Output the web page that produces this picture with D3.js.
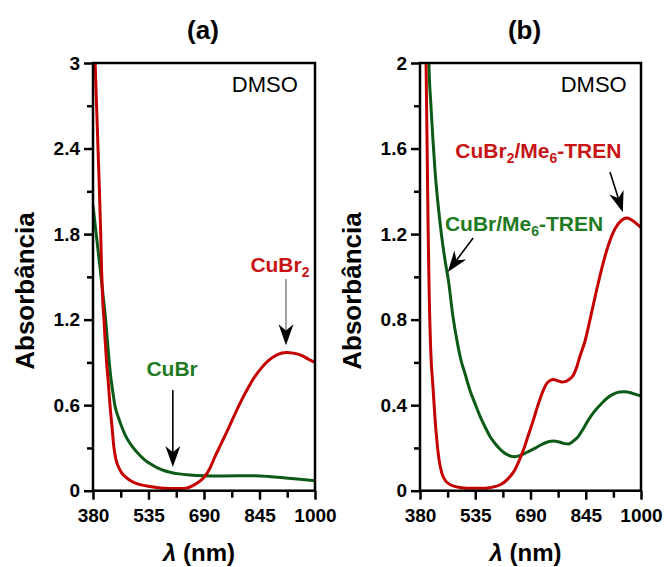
<!DOCTYPE html>
<html>
<head>
<meta charset="utf-8">
<script src="https://cdn.jsdelivr.net/npm/d3@7"></script>
<style>
  body { margin: 0; background: #fff; }
  svg { font-family: 'Liberation Sans', Arial, sans-serif; }
</style>
</head>
<body>
<svg id="chart" width="667" height="567"></svg>
<script>
// ---- data (wavelength nm, absorbance) ----
const nmTicks = [380, 535, 690, 845, 1000];
const nmMinor = [457.5, 612.5, 767.5, 922.5];

const absTicksA = [0, 0.6, 1.2, 1.8, 2.4, 3];
const absMinorA = [0.3, 0.9, 1.5, 2.1, 2.7];
const absTicksB = [0, 0.4, 0.8, 1.2, 1.6, 2];
const absMinorB = [0.2, 0.6, 1.0, 1.4, 1.8];

// (a) CuBr2 in DMSO
const cubr2Dmso = [
  [383, 3.3], [386, 3.0], [390, 2.7], [394, 2.4], [398, 2.1], [401.5, 1.8],
  [404, 1.55], [407, 1.34], [410.7, 1.2], [414, 1.05], [418, 0.9], [423, 0.75],
  [427.5, 0.6], [433, 0.45], [438.6, 0.3], [444, 0.22], [450.7, 0.17], [460, 0.125],
  [469, 0.1], [485, 0.07], [502, 0.05], [530, 0.033], [558, 0.022], [580, 0.017],
  [603, 0.015], [625, 0.015], [643, 0.02], [656, 0.032], [669, 0.05], [680, 0.07],
  [692, 0.1], [706, 0.155], [720, 0.235], [738, 0.33], [757, 0.43], [775, 0.53],
  [794, 0.63], [813, 0.72], [832, 0.8], [850, 0.86], [869, 0.91], [895, 0.955],
  [920, 0.97], [940, 0.965], [962, 0.95], [980, 0.925], [1000, 0.9]
];

// (a) CuBr in DMSO
const cubrDmso = [
  [380, 2.0], [389, 1.8], [398, 1.6], [406, 1.42], [412, 1.28], [416, 1.18],
  [420, 1.06], [424.7, 0.92], [430, 0.79], [435, 0.7], [441, 0.6], [450, 0.52],
  [460, 0.45], [470, 0.39], [480, 0.345], [492.6, 0.3], [510, 0.25], [525, 0.215],
  [539, 0.19], [560, 0.16], [580, 0.14], [595, 0.13], [620, 0.118], [651, 0.11],
  [690, 0.105], [738, 0.103], [790, 0.104], [832, 0.104], [870, 0.1], [906, 0.093],
  [950, 0.082], [1000, 0.07]
];

// (b) CuBr2/Me6-TREN
const cubr2Tren = [
  [395, 2.3], [397, 2.0], [400, 1.6], [403, 1.2], [406, 0.9], [410, 0.66],
  [417, 0.47], [422, 0.34], [427, 0.24], [433, 0.15], [441, 0.083], [450, 0.05],
  [460, 0.033], [478, 0.02], [497, 0.014], [525, 0.011], [553, 0.011], [575, 0.014],
  [590, 0.019], [605, 0.028], [618, 0.042], [632, 0.065], [646, 0.097], [658, 0.14],
  [670, 0.19], [684, 0.26], [698, 0.33], [708, 0.385], [717, 0.43], [726, 0.47],
  [735, 0.5], [745, 0.515], [754, 0.52], [765, 0.515], [778, 0.508], [787, 0.51],
  [798, 0.52], [810, 0.54], [820, 0.58], [829, 0.63], [843, 0.7], [857, 0.8],
  [873, 0.92], [890, 1.04], [905, 1.13], [920, 1.2], [935, 1.245], [950, 1.27],
  [960, 1.275], [975, 1.265], [990, 1.245], [1000, 1.23]
];

// (b) CuBr/Me6-TREN
const cubrTren = [
  [403, 2.2], [405, 2.0], [410, 1.82], [416, 1.65], [422, 1.5], [430, 1.35],
  [440, 1.2], [450, 1.08], [460, 0.98], [472, 0.82], [485, 0.69], [495, 0.61],
  [506, 0.549], [520, 0.47], [534, 0.409], [548, 0.35], [562, 0.3], [576, 0.255],
  [590, 0.222], [604, 0.195], [618, 0.175], [632, 0.163], [646, 0.159], [660, 0.164],
  [674, 0.175], [688, 0.186], [702, 0.198], [720, 0.215], [740, 0.229], [755, 0.232],
  [768, 0.229], [782, 0.222], [796, 0.218], [810, 0.232], [824, 0.253], [838, 0.29],
  [852, 0.33], [870, 0.372], [890, 0.409], [908, 0.437], [927, 0.455], [940, 0.462],
  [955, 0.463], [975, 0.456], [992, 0.447], [1000, 0.443]
];

const RED = '#c40000';
const GREEN = '#0b5a16';
const RED_TEXT = '#c81414';
const GREEN_TEXT = '#1f7a24';

const svg = d3.select('#chart');
const TOP = 63;
const BOTTOM = 490.7;

// text with subscripts; parts are [text, isSub]
function addLabel(g, parts, x, y, color, size) {
  const t = g.append('text')
    .attr('x', x).attr('y', y)
    .attr('text-anchor', 'middle')
    .attr('fill', color)
    .attr('font-weight', 'bold')
    .attr('font-size', size);
  let shifted = false;
  parts.forEach(p => {
    const span = t.append('tspan').text(p[0]);
    if (p[1]) {
      span.attr('font-size', size * 0.66).attr('dy', 5);
      shifted = true;
    } else if (shifted) {
      span.attr('dy', -5);
      shifted = false;
    }
  });
}

// thin shaft + concave filled head
function drawArrow(g, x1, y1, x2, y2, shaftColor) {
  const ang = Math.atan2(y2 - y1, x2 - x1);
  const len = 21, half = 7.5;
  const bx = x2 - len * Math.cos(ang), by = y2 - len * Math.sin(ang);
  g.append('line')
    .attr('x1', x1).attr('y1', y1).attr('x2', bx + 6 * Math.cos(ang)).attr('y2', by + 6 * Math.sin(ang))
    .attr('stroke', shaftColor).attr('stroke-width', 1.6);
  const px = -Math.sin(ang), py = Math.cos(ang);
  const notch = len * 0.7;
  const pts = [
    [x2, y2],
    [bx + half * px, by + half * py],
    [x2 - notch * Math.cos(ang), y2 - notch * Math.sin(ang)],
    [bx - half * px, by - half * py]
  ];
  g.append('path').attr('d', 'M' + pts.join('L') + 'Z').attr('fill', '#000');
}

function drawPanel(cfg) {
  const x = d3.scaleLinear().domain([380, 1000]).range([cfg.left, cfg.right]);
  const y = d3.scaleLinear().domain([0, cfg.yMax]).range([BOTTOM, TOP]);
  const g = svg.append('g');

  const clipId = 'clip-' + cfg.id;
  g.append('clipPath').attr('id', clipId)
    .append('rect')
    .attr('x', cfg.left).attr('y', TOP - 1)
    .attr('width', cfg.right - cfg.left).attr('height', BOTTOM - TOP + 1);

  // spectra
  const line = d3.line()
    .x(d => x(d[0]))
    .y(d => y(d[1]))
    .curve(d3.curveMonotoneX);
  cfg.series.forEach(s => {
    g.append('path')
      .datum(s.data)
      .attr('clip-path', `url(#${clipId})`)
      .attr('d', line)
      .attr('fill', 'none')
      .attr('stroke', s.color)
      .attr('stroke-width', 3)
      .attr('stroke-linejoin', 'round');
  });

  // box
  g.append('rect')
    .attr('x', cfg.left).attr('y', TOP)
    .attr('width', cfg.right - cfg.left).attr('height', BOTTOM - TOP)
    .attr('fill', 'none').attr('stroke', '#000').attr('stroke-width', 2.5);

  // axes, major + minor ticks
  const styleAxis = sel => {
    sel.select('.domain').remove();
    sel.selectAll('line').attr('stroke', '#000').attr('stroke-width', 2.5);
    sel.selectAll('text')
      .attr('font-family', "'Liberation Sans', Arial, sans-serif")
      .attr('font-size', 19)
      .attr('font-weight', 'bold')
      .attr('fill', '#000');
  };
  g.append('g').attr('transform', `translate(${cfg.left},0)`)
    .call(d3.axisLeft(y).tickValues(cfg.yTicks).tickSize(9).tickPadding(4).tickFormat(d => String(d)))
    .call(styleAxis);
  g.append('g').attr('transform', `translate(${cfg.left},0)`)
    .call(d3.axisLeft(y).tickValues(cfg.yMinor).tickSize(6).tickFormat(''))
    .call(styleAxis);
  g.append('g').attr('transform', `translate(0,${BOTTOM})`)
    .call(d3.axisBottom(x).tickValues(nmTicks).tickSize(9).tickPadding(9).tickFormat(d => String(d)))
    .call(styleAxis);
  g.append('g').attr('transform', `translate(0,${BOTTOM})`)
    .call(d3.axisBottom(x).tickValues(nmMinor).tickSize(7).tickFormat(''))
    .call(styleAxis);

  const mid = (cfg.left + cfg.right) / 2;

  // panel title
  g.append('text')
    .attr('x', mid + cfg.titleShift).attr('y', 39)
    .attr('text-anchor', 'middle')
    .attr('font-size', 26).attr('font-weight', 'bold')
    .text(cfg.title);

  // axis titles
  g.append('text')
    .attr('transform', `translate(${cfg.left - 59},${291}) rotate(-90)`)
    .attr('text-anchor', 'middle')
    .attr('font-size', 26).attr('font-weight', 'bold')
    .text('Absorbância');
  const xl = g.append('text')
    .attr('x', mid - 5).attr('y', 561)
    .attr('text-anchor', 'middle')
    .attr('font-size', 24).attr('font-weight', 'bold');
  xl.append('tspan').attr('font-style', 'italic').text('λ');
  xl.append('tspan').text(' (nm)');

  // solvent tag
  g.append('text')
    .attr('x', x(cfg.dmso[0])).attr('y', y(cfg.dmso[1]))
    .attr('text-anchor', 'end')
    .attr('font-size', 22)
    .text('DMSO');

  // annotations placed in data coordinates
  cfg.labels.forEach(l => addLabel(g, l.parts, x(l.at[0]), y(l.at[1]), l.color, 21));
  cfg.arrows.forEach(a => drawArrow(g, x(a.from[0]), y(a.from[1]), x(a.to[0]), y(a.to[1]), a.shaft));
}

drawPanel({
  id: 'a', title: '(a)', titleShift: -1,
  left: 93, right: 315, yMax: 3,
  yTicks: absTicksA, yMinor: absMinorA,
  series: [
    { data: cubrDmso, color: GREEN },
    { data: cubr2Dmso, color: RED }
  ],
  dmso: [952, 2.8],
  labels: [
    { parts: [['CuBr'], ['2', true]], at: [902, 1.534], color: RED_TEXT },
    { parts: [['CuBr']], at: [601, 0.805], color: GREEN_TEXT }
  ],
  arrows: [
    { from: [919, 1.485], to: [919, 1.02], shaft: '#8a8a8a' },
    { from: [603, 0.706], to: [603, 0.166], shaft: '#000' }
  ]
});

drawPanel({
  id: 'b', title: '(b)', titleShift: -6,
  left: 420, right: 641, yMax: 2,
  yTicks: absTicksB, yMinor: absMinorB,
  series: [
    { data: cubrTren, color: GREEN },
    { data: cubr2Tren, color: RED }
  ],
  dmso: [960, 1.865],
  labels: [
    { parts: [['CuBr'], ['2', true], ['/Me'], ['6', true], ['-TREN']], at: [712, 1.556], color: RED_TEXT },
    { parts: [['CuBr/Me'], ['6', true], ['-TREN']], at: [672, 1.214], color: GREEN_TEXT }
  ],
  arrows: [
    { from: [913, 1.49], to: [949, 1.302], shaft: '#000' },
    { from: [529, 1.182], to: [458, 1.023], shaft: '#000' }
  ]
});
</script>
</body>
</html>
